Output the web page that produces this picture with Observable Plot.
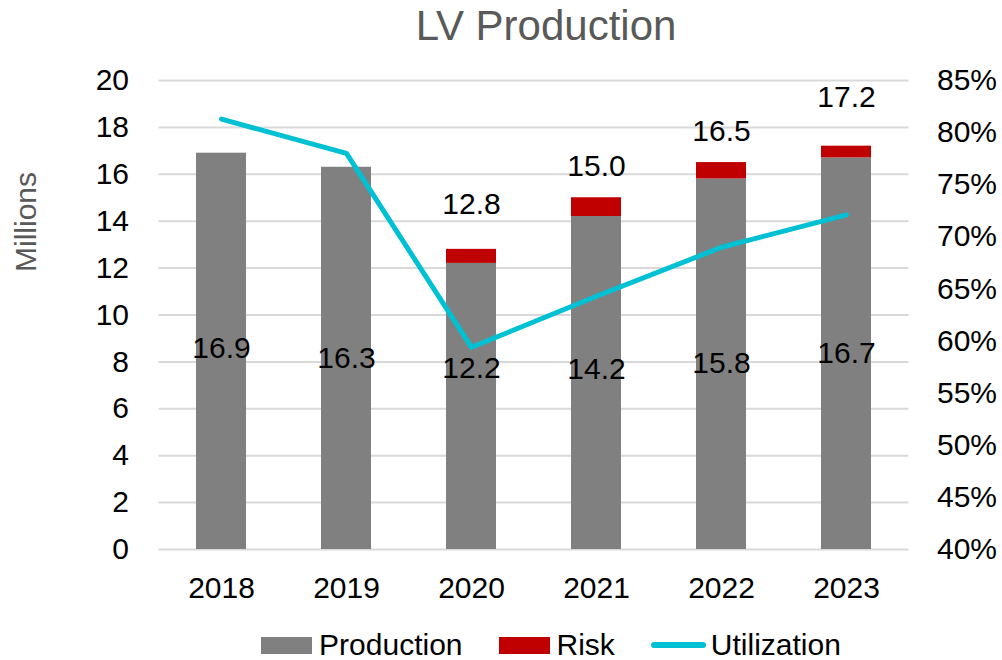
<!DOCTYPE html>
<html>
<head>
<meta charset="utf-8">
<script src="https://cdn.jsdelivr.net/npm/d3@7"></script>
<script src="https://cdn.jsdelivr.net/npm/@observablehq/plot@0.6"></script>
<style>
  html, body { margin: 0; padding: 0; background: #fff; }
  body { width: 1002px; height: 660px; overflow: hidden; font-family: "Liberation Sans", Arial, sans-serif; position: relative; }
  #title { height: 62px; box-sizing: border-box; padding-top: 2px; padding-left: 90px; text-align: center; font-size: 42px; line-height: 48px; color: #595959; }
  #ylabel { position: absolute; left: 26px; top: 222px; transform: translate(-50%, -50%) rotate(-90deg); font-size: 30px; color: #595959; white-space: nowrap; }
  #legend { display: flex; justify-content: center; align-items: center; height: 70px; padding-left: 100px; font-size: 30px; color: #000; }
  .item { display: flex; align-items: center; margin-right: 36px; }
  .item:last-child { margin-right: 0; }
  .sw { width: 51px; height: 17px; margin-right: 7px; }
  .ln { width: 55px; height: 6px; border-radius: 3px; margin-right: 5px; }
</style>
</head>
<body>
<div id="title">LV Production</div>
<div id="chart"></div>
<div id="legend"></div>
<div id="ylabel">Millions</div>
<script>
// ---- data ----
const years = ["2018", "2019", "2020", "2021", "2022", "2023"];
const production = [16.9, 16.3, 12.2, 14.2, 15.8, 16.7];       // millions
const totals = [16.9, 16.3, 12.8, 15.0, 16.5, 17.2];           // production + risk
const utilization = [81.3, 78.0, 59.4, 64.3, 69.0, 72.1];      // percent
const prodLabelAt = [8.57, 8.14, 7.72, 7.68, 7.93, 8.36];      // where the inside labels sit (millions)
const totalLabelAt = [null, null, 14.7, 16.33, 17.83, 19.27];  // where the total labels sit (millions)
const leftTicks = [0, 2, 4, 6, 8, 10, 12, 14, 16, 18, 20];
const rightTicks = [40, 45, 50, 55, 60, 65, 70, 75, 80, 85];
const seriesNames = ["Production", "Risk", "Utilization"];

const colors = { Production: "#808080", Risk: "#C00000", Utilization: "#00C1D4" };

// map percent axis (40–85%) onto the millions axis (0–20)
const pMin = 40, pMax = 85, yMax = 20;
const toY = p => (p - pMin) * yMax / (pMax - pMin);

const rows = years.map((y, i) => ({
  year: y,
  prod: production[i],
  total: totals[i],
  risk: +(totals[i] - production[i]).toFixed(2),
  util: utilization[i],
  prodAt: prodLabelAt[i],
  totalAt: totalLabelAt[i]
}));

const font = 30;

const chart = Plot.plot({
  width: 1002,
  height: 548,
  marginTop: 18,
  marginBottom: 61,
  marginLeft: 158.5,
  marginRight: 93.5,
  style: { fontFamily: "'Liberation Sans', Arial, sans-serif", fontSize: font + "px", color: "#000", background: "#fff" },
  x: { type: "band", domain: years, paddingInner: 0.6, paddingOuter: 0.3, label: null },
  y: { domain: [0, yMax], label: null },
  marks: [
    Plot.ruleY(leftTicks, { stroke: "#D9D9D9", strokeWidth: 2 }),
    Plot.barY(rows, { x: "year", y1: 0, y2: "prod", fill: colors.Production }),
    Plot.barY(rows.filter(d => d.risk > 0), { x: "year", y1: "prod", y2: "total", fill: colors.Risk }),
    Plot.line(rows, { x: "year", y: d => toY(d.util), stroke: colors.Utilization, strokeWidth: 5, strokeLinecap: "round", strokeLinejoin: "round" }),
    Plot.text(rows, { x: "year", y: "prodAt", text: d => d.prod.toFixed(1), fontSize: font, fill: "#000" }),
    Plot.text(rows.filter(d => d.totalAt != null), { x: "year", y: "totalAt", text: d => d.total.toFixed(1), fontSize: font, fill: "#000" }),
    Plot.axisY({ anchor: "left", ticks: leftTicks, tickSize: 0, tickPadding: 30, fontSize: font, label: null }),
    Plot.axisY({ anchor: "right", ticks: rightTicks.map(toY), tickFormat: (d, i) => rightTicks[i] + "%", tickSize: 0, tickPadding: 28, fontSize: font, label: null }),
    Plot.axisX({ anchor: "bottom", tickSize: 0, tickPadding: 27, fontSize: font, label: null })
  ]
});
document.getElementById("chart").appendChild(chart);

// legend
const legend = document.getElementById("legend");
seriesNames.forEach(name => {
  const item = document.createElement("div");
  item.className = "item";
  const sw = document.createElement("div");
  sw.className = name === "Utilization" ? "ln" : "sw";
  sw.style.background = colors[name];
  const label = document.createElement("span");
  label.textContent = name;
  item.appendChild(sw);
  item.appendChild(label);
  legend.appendChild(item);
});
</script>
</body>
</html>
